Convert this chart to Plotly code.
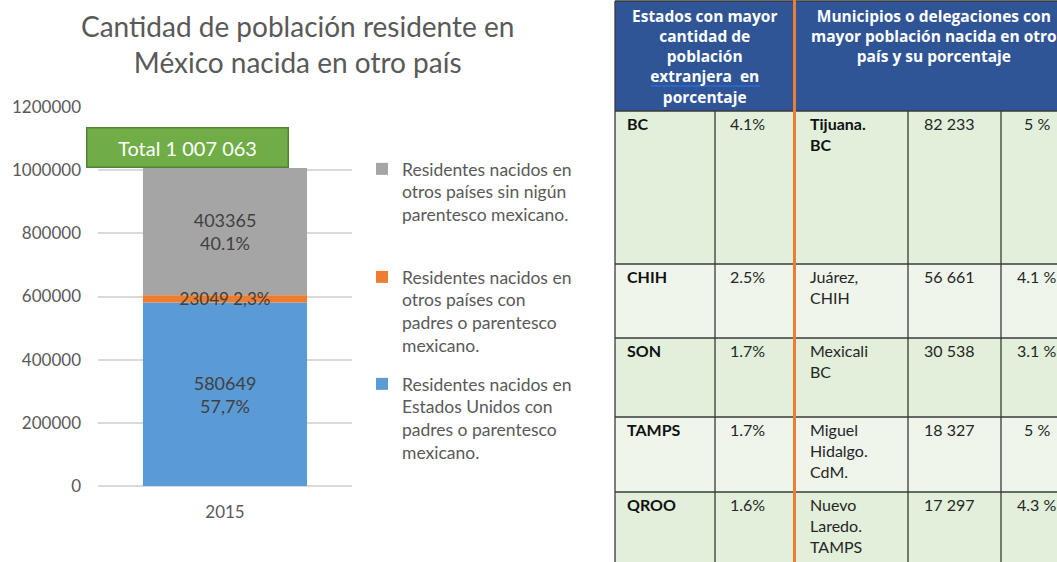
import plotly.graph_objects as go

# ---------------- data ----------------
categories = ["2015"]
usa_values = [580649]
mexparent_values = [23049]
other_values = [403365]
usa_pct = ["57,7%"]
mexparent_pct = ["2,3%"]
other_pct = ["40.1%"]

name_usa = "Residentes nacidos en<br>Estados Unidos con<br>padres o parentesco<br>mexicano."
name_mexparent = "Residentes nacidos en<br>otros países con<br>padres o parentesco<br>mexicano."
name_other = "Residentes nacidos en<br>otros países sin nigún<br>parentesco mexicano."

chart_title = "Cantidad de población residente en<br>México nacida en otro país"
y_ticks = [0, 200000, 400000, 600000, 800000, 1000000, 1200000]

states = ["BC", "CHIH", "SON", "TAMPS", "QROO"]
state_pct = [4.1, 2.5, 1.7, 1.7, 1.6]
municipios = ["Tijuana.<br>BC", "Juárez,<br>CHIH", "Mexicali<br>BC",
              "Miguel<br>Hidalgo.<br>CdM.", "Nuevo<br>Laredo.<br>TAMPS"]
mun_pob = [82233, 56661, 30538, 18327, 17297]
mun_pct = [5, 4.1, 3.1, 5, 4.3]

header_left = "Estados con mayor<br>cantidad de<br>población<br>extranjera\u00a0 en<br>porcentaje"
header_right = "Municipios o delegaciones con<br>mayor población nacida en otro<br>país y su porcentaje"

# ---------------- styles ----------------
W, H = 1057, 562
FONT = "Lato"
HFONT = "Open Sans"
GRAY_TXT = "#595959"
LBL_TXT = "#404040"
C_BLUE, C_ORANGE, C_GRAY = "#5B9BD5", "#ED7D31", "#A5A5A5"


def px(x):
    return x / W


def py(y):
    return 1 - y / H


base_mex = [a for a in usa_values]
base_other = [a + b for a, b in zip(usa_values, mexparent_values)]
totals = [a + b + c for a, b, c in zip(usa_values, mexparent_values, other_values)]

fig = go.Figure()
bar_w = 0.646
lbl_font = dict(family=FONT, size=18, color=LBL_TXT)
fig.add_trace(go.Bar(
    x=categories, y=usa_values, base=[0] * len(usa_values), name=name_usa,
    marker=dict(color=C_BLUE, line=dict(width=0)), width=bar_w,
    text=[f"{v}<br>{p}" for v, p in zip(usa_values, usa_pct)],
    textposition="inside", insidetextanchor="middle", textangle=0,
    constraintext="none", textfont=lbl_font,
    legend="legend3", hoverinfo="skip"))
fig.add_trace(go.Bar(
    x=categories, y=other_values, base=base_other, name=name_other,
    marker=dict(color=C_GRAY, line=dict(width=0)), width=bar_w,
    text=[f"{v}<br>{p}" for v, p in zip(other_values, other_pct)],
    textposition="inside", insidetextanchor="middle", textangle=0,
    constraintext="none", textfont=lbl_font,
    legend="legend", hoverinfo="skip"))
fig.add_trace(go.Bar(
    x=categories, y=mexparent_values, base=base_mex, name=name_mexparent,
    marker=dict(color=C_ORANGE, line=dict(width=0)), width=bar_w,
    text=[f"{v} {p}" for v, p in zip(mexparent_values, mexparent_pct)],
    textposition="inside", insidetextanchor="middle", textangle=0,
    constraintext="none", textfont=dict(family=FONT, size=17, color=LBL_TXT),
    legend="legend2", hoverinfo="skip"))

leg_common = dict(xanchor="left", yanchor="top", valign="top", itemwidth=30,
                  bgcolor="rgba(0,0,0,0)", font=dict(family=FONT, size=17.5, color=GRAY_TXT),
                  itemclick=False, itemdoubleclick=False)
leg_x = px(362)

fig.update_layout(
    width=W, height=H, autosize=False,
    margin=dict(l=0, r=0, t=0, b=0, pad=0, autoexpand=False),
    paper_bgcolor="white", plot_bgcolor="white",
    barmode="overlay",
    font=dict(family=FONT, color=GRAY_TXT),
    xaxis=dict(domain=[px(98), px(352)], type="category", range=[-0.5, 0.5],
               showgrid=False, zeroline=False, showline=False, ticks="",
               automargin=False, ticklabelstandoff=14,
               tickfont=dict(family=FONT, size=17, color=GRAY_TXT)),
    yaxis=dict(domain=[py(486), py(107)], range=[0, 1200000],
               tickvals=y_ticks, tickformat="d",
               showgrid=True, gridcolor="#D9D9D9", gridwidth=1.5,
               zeroline=True, zerolinecolor="#D9D9D9", zerolinewidth=1.5,
               showline=False, ticks="", ticklabelstandoff=16, automargin=False,
               tickfont=dict(family=FONT, size=17, color=GRAY_TXT)),
    legend=dict(x=leg_x, y=py(151), **leg_common),
    legend2=dict(x=leg_x, y=py(259), **leg_common),
    legend3=dict(x=leg_x, y=py(366), **leg_common),
    showlegend=True,
)

annotations = []
shapes = []

# Title
annotations.append(dict(xref="paper", yref="paper", x=px(297), y=py(7),
                        xanchor="center", yanchor="top", align="center",
                        text=chart_title, showarrow=False,
                        font=dict(family=FONT, size=28, color=GRAY_TXT)))

# Total box
for t in totals:
    annotations.append(dict(
        xref="paper", yref="y", x=px(187.5), y=t, xanchor="center", yanchor="bottom",
        text="Total " + f"{t:,}".replace(",", " "), showarrow=False,
        font=dict(family=FONT, size=20, color="white"),
        bgcolor="#70AD47", bordercolor="#548235", borderwidth=1.5, borderpad=2,
        width=196, height=34))

# ---------------- table ----------------
col_edges = [615, 715, 794, 908, 1001, 1072]
row_edges = [1, 111, 264, 338, 417, 492, 600]
HEAD_BLUE = "#2F5597"
ROW_DARK, ROW_LIGHT = "#E2EFDA", "#EFF5EB"
BORDER = "#3A3A3A"


def rect(x0, y0, x1, y1, fill):
    return dict(type="rect", xref="paper", yref="paper", x0=px(x0), x1=px(x1),
                y0=py(y1), y1=py(y0), fillcolor=fill, line=dict(width=0), layer="above")


def line(x0, y0, x1, y1, color=BORDER, width=1.3):
    return dict(type="line", xref="paper", yref="paper", x0=px(x0), x1=px(x1),
                y0=py(y0), y1=py(y1), line=dict(color=color, width=width), layer="above")


shapes.append(rect(col_edges[0], row_edges[0], col_edges[-1], row_edges[1], HEAD_BLUE))
for i in range(len(states)):
    shapes.append(rect(col_edges[0], row_edges[i + 1], col_edges[-1], row_edges[i + 2],
                       ROW_DARK if i % 2 == 0 else ROW_LIGHT))
for yy in row_edges[:-1]:
    shapes.append(line(col_edges[0], yy, col_edges[-1], yy))
shapes.append(line(col_edges[0], row_edges[0], col_edges[0], H + 5))
for xx in (col_edges[1], col_edges[3], col_edges[4]):
    shapes.append(line(xx, row_edges[1], xx, H + 5))
# underline in header
shapes.append(line(651, 86, 760, 86, color="#2E6BD6", width=1.5))
# orange separator
shapes.append(line(794.5, 0, 794.5, H + 5, color="#ED7D31", width=3))

# header texts
hfont = dict(family=HFONT, size=15.5, color="white")
annotations.append(dict(xref="paper", yref="paper", x=px((col_edges[0] + col_edges[2]) / 2),
                        y=py(3), xanchor="center", yanchor="top", align="center",
                        text=f"<b>{header_left}</b>", showarrow=False, font=hfont))
annotations.append(dict(xref="paper", yref="paper", x=px((col_edges[2] + col_edges[5]) / 2 + 1),
                        y=py(3), xanchor="center", yanchor="top", align="center",
                        text=f"<b>{header_right}</b>", showarrow=False, font=hfont))

cell_font = dict(family=FONT, size=16, color="#262626")
for i in range(len(states)):
    top = row_edges[i + 1] + 1
    annotations.append(dict(xref="paper", yref="paper", x=px(625), y=py(top),
                            xanchor="left", yanchor="top", align="left",
                            text=f"<b>{states[i]}</b>", showarrow=False,
                            font=dict(family=FONT, size=16, color="#111111")))
    annotations.append(dict(xref="paper", yref="paper", x=px(767), y=py(top),
                            xanchor="right", yanchor="top", align="right",
                            text=f"{state_pct[i]}%", showarrow=False, font=cell_font))
    mtxt = f"<b>{municipios[i]}</b>" if i == 0 else municipios[i]
    annotations.append(dict(xref="paper", yref="paper", x=px(808), y=py(top),
                            xanchor="left", yanchor="top", align="left",
                            text=mtxt, showarrow=False,
                            font=dict(family=FONT, size=16,
                                      color="#111111" if i == 0 else "#262626")))
    annotations.append(dict(xref="paper", yref="paper", x=px(922), y=py(top),
                            xanchor="left", yanchor="top", align="left",
                            text=f"{mun_pob[i]:,}".replace(",", " "), showarrow=False,
                            font=cell_font))
    annotations.append(dict(xref="paper", yref="paper",
                            x=px((col_edges[4] + col_edges[5]) / 2), y=py(top),
                            xanchor="center", yanchor="top", align="center",
                            text=f"{mun_pct[i]:g} %", showarrow=False, font=cell_font))

fig.update_layout(shapes=shapes, annotations=annotations)
fig.write_html("out.html", config={"displayModeBar": False},
               post_script="document.body.style.margin='0';document.body.style.overflow='hidden';")
